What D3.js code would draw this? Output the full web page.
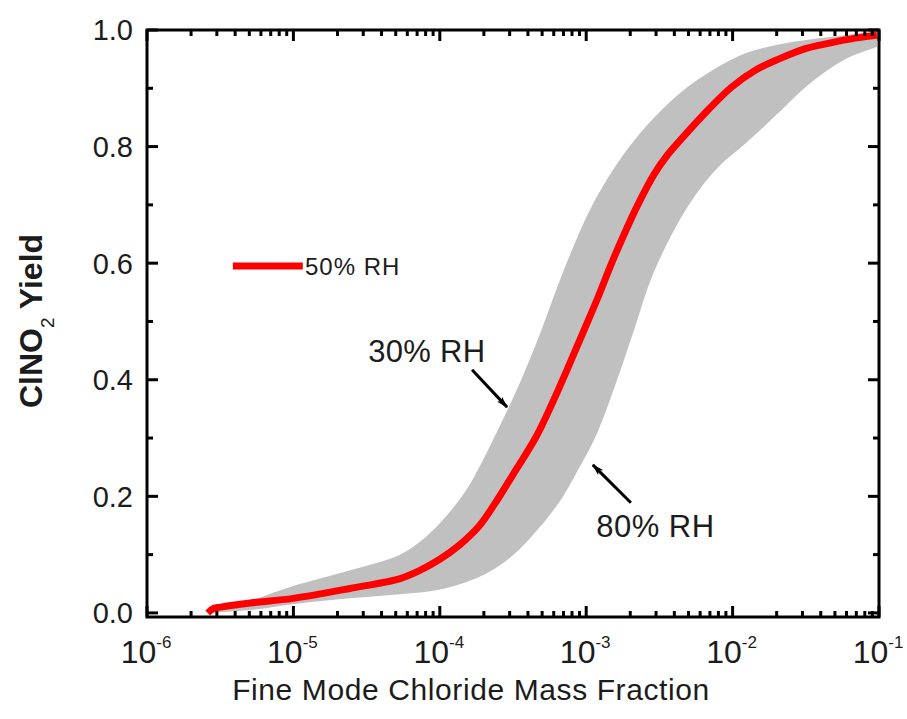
<!DOCTYPE html>
<html>
<head>
<meta charset="utf-8">
<script src="https://cdn.jsdelivr.net/npm/d3@7"></script>
<style>
  body { margin: 0; background: #fff; }
  svg { display: block; }
  text { font-family: "Liberation Sans", Arial, sans-serif; fill: #1c1c1c; }
</style>
</head>
<body>
<svg id="chart" width="907" height="719"></svg>
<script>
// ClNO2 yield vs fine-mode chloride mass fraction
// 50% RH central curve
const rh50Frac = [2.60e-6, 2.86e-6, 3.18e-6, 5.09e-6, 1.0e-5, 2.44e-5, 5.35e-5, 7.31e-5, 1.0e-4,
  1.37e-4, 1.87e-4, 2.37e-4, 3.14e-4, 4.57e-4, 5.87e-4, 7.31e-4, 9.40e-4, 1.22e-3, 1.48e-3,
  1.82e-3, 2.22e-3, 2.90e-3, 3.60e-3, 4.50e-3, 6.87e-3, 9.84e-3, 1.43e-2, 2.06e-2, 3.14e-2,
  4.50e-2, 6.87e-2, 9.68e-2];
const rh50Yield = [0.000, 0.008, 0.010, 0.017, 0.025, 0.042, 0.059, 0.073, 0.092,
  0.117, 0.150, 0.187, 0.236, 0.303, 0.360, 0.414, 0.478, 0.545, 0.598,
  0.650, 0.697, 0.752, 0.786, 0.814, 0.864, 0.902, 0.931, 0.950, 0.968,
  0.977, 0.986, 0.991];

// 30% RH edge of the RH range (upper side of the band)
const rh30Frac = [2.60e-6, 5.97e-6, 1.0e-5, 2.44e-5, 5.35e-5, 7.31e-5, 1.0e-4, 1.37e-4, 1.73e-4,
  2.86e-4, 3.67e-4, 4.94e-4, 7.08e-4, 1.13e-3, 2.12e-3, 4.30e-3, 7.20e-3, 1.22e-2, 2.06e-2,
  3.44e-2, 5.87e-2, 9.68e-2];
const rh30Yield = [0.000, 0.027, 0.046, 0.073, 0.100, 0.122, 0.154, 0.195, 0.235,
  0.345, 0.405, 0.485, 0.590, 0.705, 0.810, 0.890, 0.930, 0.960, 0.975,
  0.984, 0.991, 0.996];

// 80% RH edge of the RH range (lower side of the band)
const rh80Frac = [2.60e-6, 5.09e-6, 1.0e-5, 2.44e-5, 5.35e-5, 1.0e-4, 1.87e-4, 2.86e-4, 4.09e-4,
  6.55e-4, 8.69e-4, 1.17e-3, 1.60e-3, 2.12e-3, 2.90e-3, 5.02e-3, 8.00e-3, 1.22e-2, 1.57e-2,
  2.06e-2, 3.44e-2, 5.87e-2, 9.68e-2];
const rh80Yield = [0.000, 0.005, 0.015, 0.025, 0.032, 0.040, 0.062, 0.090, 0.127,
  0.190, 0.243, 0.305, 0.395, 0.485, 0.585, 0.700, 0.765, 0.805, 0.830,
  0.858, 0.910, 0.950, 0.971];

const xDecades = [-6, -5, -4, -3, -2, -1];
const yTickValues = [0, 0.2, 0.4, 0.6, 0.8, 1.0];
const yTickLabels = ["0.0", "0.2", "0.4", "0.6", "0.8", "1.0"];
const yMinorValues = [0.1, 0.3, 0.5, 0.7, 0.9];
const legendLabel = "50% RH";
const annotationLabels = ["30% RH", "80% RH"];

const svg = d3.select("#chart");
const plotL = 147, plotR = 879, plotT = 30, plotB = 617;

const x = d3.scaleLog().domain([1e-6, 1e-1]).range([plotL, plotR]);
const y = d3.scaleLinear().domain([-0.007, 1]).range([plotB, plotT]);

const zip = (xs, ys) => xs.map((v, i) => [v, ys[i]]);
const line = d3.line().x(d => x(d[0])).y(d => y(d[1])).curve(d3.curveCatmullRom.alpha(0.5));

// shaded RH range: 30% edge forward, 80% edge back
const upperPath = line(zip(rh30Frac, rh30Yield));
const lowerPath = line(zip(rh80Frac, rh80Yield).reverse());
svg.append("path")
  .attr("d", upperPath + "L" + lowerPath.slice(1) + "Z")
  .attr("fill", "#c0c0c0")
  .attr("stroke", "none");

// 50% RH curve
svg.append("path")
  .attr("d", line(zip(rh50Frac, rh50Yield)))
  .attr("fill", "none")
  .attr("stroke", "#ff0000")
  .attr("stroke-width", 7)
  .attr("stroke-linejoin", "round");

// frame
svg.append("rect")
  .attr("x", plotL).attr("y", plotT)
  .attr("width", plotR - plotL).attr("height", plotB - plotT)
  .attr("fill", "none").attr("stroke", "#000").attr("stroke-width", 3);

// inward ticks on all four sides
const majorLen = 11, minorLen = 6;
const xMajor = xDecades.map(k => Math.pow(10, k));
const xMinor = [];
xDecades.slice(0, -1).forEach(k => { for (let m = 2; m <= 9; m++) xMinor.push(m * Math.pow(10, k)); });

const ticks = svg.append("g").attr("stroke", "#000").attr("stroke-width", 3);
function xTick(v, len) {
  const px = x(v);
  ticks.append("line").attr("x1", px).attr("x2", px).attr("y1", plotB).attr("y2", plotB - len);
  ticks.append("line").attr("x1", px).attr("x2", px).attr("y1", plotT).attr("y2", plotT + len);
}
function yTick(v, len) {
  const py = y(v);
  ticks.append("line").attr("x1", plotL).attr("x2", plotL + len).attr("y1", py).attr("y2", py);
  ticks.append("line").attr("x1", plotR).attr("x2", plotR - len).attr("y1", py).attr("y2", py);
}
xMajor.forEach(v => xTick(v, majorLen));
xMinor.forEach(v => xTick(v, minorLen));
yTickValues.forEach(v => yTick(v, majorLen));
yMinorValues.forEach(v => yTick(v, minorLen));

// x tick labels: 10 with exponent
xDecades.forEach(k => {
  const t = svg.append("text")
    .attr("x", x(Math.pow(10, k)) - 1)
    .attr("y", 663)
    .attr("text-anchor", "middle")
    .attr("font-size", 32);
  t.append("tspan").text("10");
  t.append("tspan").attr("font-size", 17).attr("dy", -15).text(String(k));
});

// y tick labels
yTickValues.forEach((v, i) => {
  svg.append("text")
    .attr("x", 133)
    .attr("y", y(v))
    .attr("dy", "0.36em")
    .attr("text-anchor", "end")
    .attr("font-size", 29)
    .text(yTickLabels[i]);
});

// axis titles
svg.append("text")
  .attr("x", 471)
  .attr("y", 700)
  .attr("text-anchor", "middle")
  .attr("font-size", 30)
  .attr("letter-spacing", 0.6)
  .text("Fine Mode Chloride Mass Fraction");

const yt = svg.append("text")
  .attr("transform", "translate(42,321) rotate(-90)")
  .attr("text-anchor", "middle")
  .attr("font-size", 32)
  .attr("font-weight", "bold");
yt.append("tspan").text("ClNO");
yt.append("tspan").attr("font-size", 19).attr("dy", 12).attr("font-weight", "normal").text("2");
yt.append("tspan").attr("dy", -12).text(" Yield");

// legend
svg.append("line")
  .attr("x1", x(3.86e-6)).attr("x2", x(1.16e-5))
  .attr("y1", y(0.595)).attr("y2", y(0.595))
  .attr("stroke", "#ff0000").attr("stroke-width", 7);
svg.append("text")
  .attr("x", x(1.2e-5)).attr("y", y(0.58))
  .attr("font-size", 24)
  .attr("letter-spacing", 1)
  .attr("fill", "#3a3440")
  .text(legendLabel);

// annotations with arrows
const defs = svg.append("defs");
defs.append("marker")
  .attr("id", "head")
  .attr("viewBox", "0 0 12 8")
  .attr("refX", 11).attr("refY", 4)
  .attr("markerWidth", 12).attr("markerHeight", 8)
  .attr("markerUnits", "userSpaceOnUse")
  .attr("orient", "auto")
  .append("path").attr("d", "M0,0.5 L12,4 L0,7.5 L3,4 Z").attr("fill", "#000");

svg.append("text")
  .attr("x", x(3.24e-5)).attr("y", y(0.430))
  .attr("font-size", 31)
  .attr("letter-spacing", 0.3)
  .text(annotationLabels[0]);
svg.append("line")
  .attr("x1", x(1.66e-4)).attr("y1", y(0.417))
  .attr("x2", x(2.88e-4)).attr("y2", y(0.353))
  .attr("stroke", "#000").attr("stroke-width", 3)
  .attr("marker-end", "url(#head)");

svg.append("text")
  .attr("x", x(1.17e-3)).attr("y", y(0.130))
  .attr("font-size", 31)
  .attr("letter-spacing", 0.5)
  .text(annotationLabels[1]);
svg.append("line")
  .attr("x1", x(2.02e-3)).attr("y1", y(0.189))
  .attr("x2", x(1.11e-3)).attr("y2", y(0.254))
  .attr("stroke", "#000").attr("stroke-width", 3)
  .attr("marker-end", "url(#head)");
</script>
</body>
</html>
